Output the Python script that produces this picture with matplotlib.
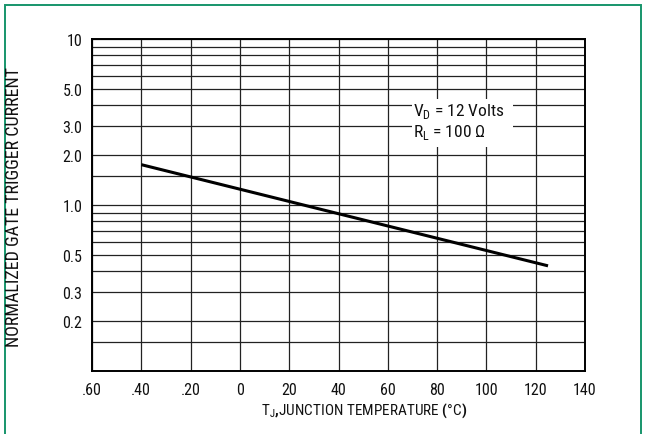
import matplotlib
matplotlib.use('Agg')
import matplotlib.pyplot as plt
from matplotlib.patches import Rectangle

# ---- data ----
temp_c = [-40, 125]
gate_current = [1.75, 0.43]
x_ticks = [-60, -40, -20, 0, 20, 40, 60, 80, 100, 120, 140]
x_labels = ['.60', '.40', '.20', '0', '20', '40', '60', '80', '100', '120', '140']
y_ticks = [0.2, 0.3, 0.5, 1.0, 2.0, 3.0, 5.0, 10]
y_labels = ['0.2', '0.3', '0.5', '1.0', '2.0', '3.0', '5.0', '10']
y_minor = [0.15, 0.4, 0.6, 0.7, 0.8, 0.9, 1.5, 4, 6, 7, 8, 9]

FONT = ['Roboto Condensed', 'Archivo Narrow', 'DejaVu Sans']
plt.rcParams['font.family'] = FONT
plt.rcParams['mathtext.fontset'] = 'custom'
plt.rcParams['mathtext.rm'] = 'Roboto Condensed'
plt.rcParams['mathtext.bf'] = 'Roboto Condensed:bold'

fig = plt.figure(figsize=(6.46, 4.35), dpi=100)
ax = fig.add_axes([92/646, 1-372/435, (585-92)/646, (372-40)/435])

ax.set_yscale('log')
ax.set_xlim(-60, 140)
ax.set_ylim(0.1, 10)

ax.plot(temp_c, gate_current, color='black', lw=2.2, solid_capstyle='butt', zorder=5)

ax.set_xticks(x_ticks)
ax.set_xticklabels(x_labels)
ax.set_yticks(y_ticks)
ax.set_yticklabels(y_labels)
ax.set_yticks(y_minor, minor=True)
ax.yaxis.set_minor_formatter(matplotlib.ticker.NullFormatter())
ax.tick_params(axis='both', which='both', length=0, labelsize=11.5, colors='#111111')
ax.tick_params(axis='y', pad=7)
ax.tick_params(axis='x', pad=8)

ax.grid(True, which='both', color='#222222', lw=0.9)
ax.set_axisbelow(True)
for s in ax.spines.values():
    s.set_linewidth(1.4)
    s.set_color('black')

# annotation box
ax.add_patch(Rectangle((0.649, 0.675), 0.205, 0.144, transform=ax.transAxes,
                       facecolor='white', edgecolor='none', zorder=3))
ax.text(0.652, 0.785, r'V$_\mathregular{D}$ = 12 Volts', transform=ax.transAxes,
        fontsize=12.5, va='center', ha='left', zorder=6, color='#111111')
ax.text(0.652, 0.720, r'R$_\mathregular{L}$ = 100 $\mathregular{\Omega}$', transform=ax.transAxes,
        fontsize=12.5, va='center', ha='left', zorder=6, color='#111111')

fig.text(364/646, 1-411/435,
         r'T$_\mathregular{J}$$\mathbf{,}$JUNCTION TEMPERATURE $\mathbf{(}$°C$\mathbf{)}$',
         ha='center', va='center', fontsize=11, color='#111111')
fig.text(14.5/646, 1-207/435, 'NORMALIZED GATE TRIGGER CURRENT', rotation=90,
         ha='center', va='center', fontsize=13, color='#111111')

# green frame
fig.patches.append(Rectangle((4.5/646, -0.05), (641-4.5)/646, 1.05 - 5.5/435,
                             transform=fig.transFigure, fill=False,
                             edgecolor='#17956b', lw=1.4))

fig.savefig('out.png', dpi=100)
